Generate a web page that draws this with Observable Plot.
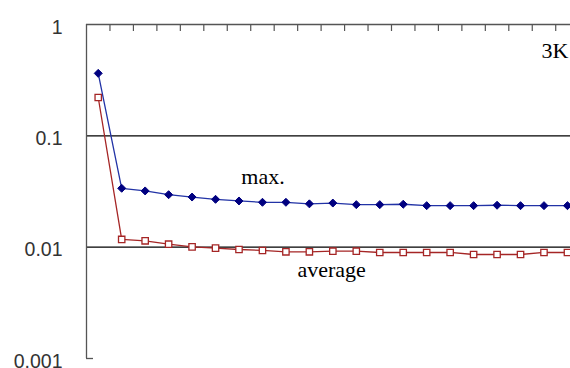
<!DOCTYPE html>
<html>
<head>
<meta charset="utf-8">
<script src="https://cdn.jsdelivr.net/npm/d3@7"></script>
<script src="https://cdn.jsdelivr.net/npm/@observablehq/plot@0.6"></script>
<style>
  html, body { margin: 0; padding: 0; background: #fff; overflow: hidden; }
  svg { display: block; }
</style>
</head>
<body>
<div id="chart"></div>
<script>
const steps = d3.range(1, 22);
const maxValues = [0.364, 0.0338, 0.0320, 0.0296, 0.0282, 0.0269, 0.0260, 0.0253, 0.0253, 0.0245, 0.0249,
  0.0241, 0.0241, 0.0243, 0.0236, 0.0236, 0.0236, 0.0238, 0.0236, 0.0236, 0.0236];
const avgValues = [0.221, 0.01173, 0.0114, 0.01064, 0.01006, 0.0098, 0.00953, 0.00934, 0.00908, 0.00908, 0.0092,
  0.0092, 0.00896, 0.00896, 0.00896, 0.00896, 0.00859, 0.00859, 0.00859, 0.00896, 0.00896];
const yTicks = [1, 0.1, 0.01, 0.001];
const yTickLabels = ["1", "0.1", "0.01", "0.001"];
const gridValues = [0.1, 0.01];
const seriesLabels = ["max.", "average"];
const panelLabel = "3K";

const maxData = steps.map((s, i) => ({step: s, value: maxValues[i]}));
const avgData = steps.map((s, i) => ({step: s, value: avgValues[i]}));
const bounds = steps.slice(0, -1).map(s => s + 0.5);

const chart = Plot.plot({
  width: 570,
  height: 368,
  marginLeft: 86,
  marginRight: 0,
  marginTop: 24,
  marginBottom: 10,
  x: {type: "linear", domain: [0.5, 21.13], axis: null},
  y: {type: "log", domain: [0.001, 1], axis: null},
  marks: [
    Plot.ruleY(gridValues, {stroke: "#000", strokeWidth: 1.3}),
    Plot.ruleY([1], {stroke: "#555", strokeWidth: 1.3}),
    Plot.ruleY([0.001], {stroke: "#555", strokeWidth: 1.3, insetRight: 477}),
    Plot.ruleX([0.5], {stroke: "#555", strokeWidth: 1.3}),
    Plot.tickX(bounds, {x: d => d, stroke: "#555", strokeWidth: 1.2, insetBottom: 327}),
    Plot.axisY({
      ticks: yTicks,
      tickFormat: (d) => yTickLabels[yTicks.indexOf(d)],
      tickSize: 0,
      tickPadding: 24,
      label: null,
      fontSize: 19.5,
      fontFamily: "Liberation Sans, Arial, sans-serif",
      fill: "#333",
      dy: 3
    }),
    Plot.line(maxData, {x: "step", y: "value", stroke: "#2233a6", strokeWidth: 1.3}),
    Plot.line(avgData, {x: "step", y: "value", stroke: "#a52525", strokeWidth: 1.3}),
    Plot.dot(maxData, {x: "step", y: "value", symbol: "diamond2", r: 3.6, fill: "#000080", stroke: "#000080", strokeWidth: 1}),
    Plot.dot(avgData, {x: "step", y: "value", symbol: "square", r: 3.6, fill: "#fff", stroke: "#a52525", strokeWidth: 1.3}),
    Plot.text([seriesLabels[0]], {x: 7.1, y: 0.0373, text: d => d, textAnchor: "start", lineAnchor: "bottom",
      fontSize: 22, fontFamily: "Liberation Serif, Times New Roman, serif", fill: "#000"}),
    Plot.text([seriesLabels[1]], {x: 9.49, y: 0.00544, text: d => d, textAnchor: "start", lineAnchor: "bottom",
      fontSize: 22, fontFamily: "Liberation Serif, Times New Roman, serif", fill: "#000"}),
    Plot.text([panelLabel], {frameAnchor: "top-right", text: d => d, textAnchor: "end", lineAnchor: "bottom",
      dx: -2, dy: 33, fontSize: 22, fontFamily: "Liberation Serif, Times New Roman, serif", fill: "#000"})
  ]
});
document.getElementById("chart").appendChild(chart);
</script>
</body>
</html>
